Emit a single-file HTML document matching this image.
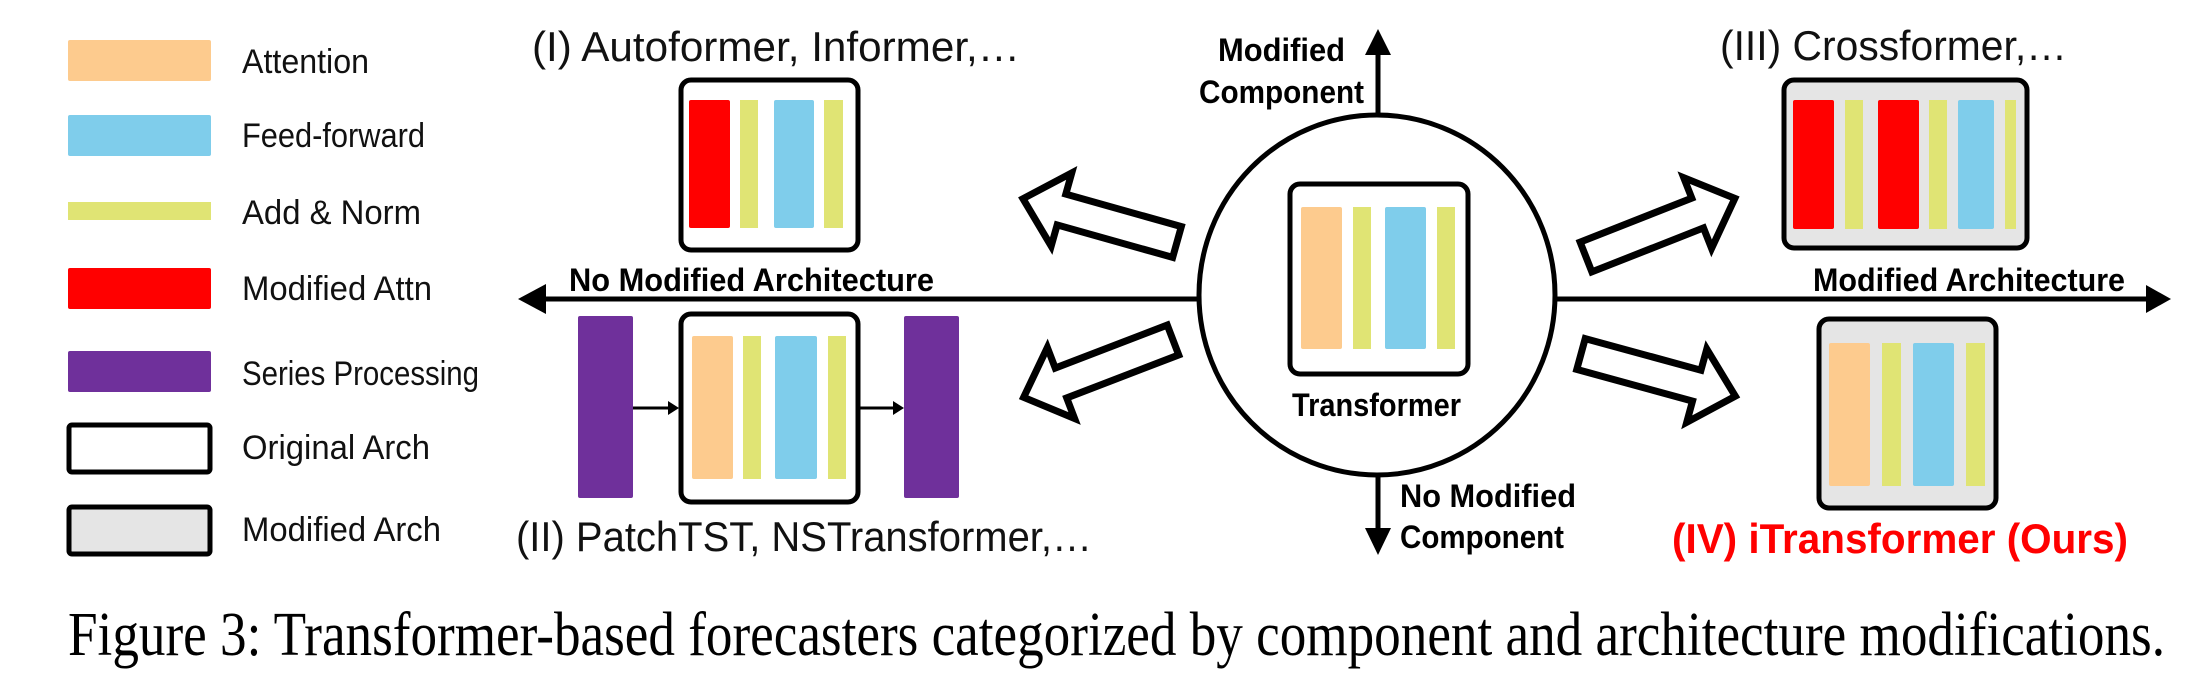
<!DOCTYPE html>
<html><head><meta charset="utf-8"><style>
html,body{margin:0;padding:0;background:#fff;}
svg{display:block;}
.l{font-family:"Liberation Sans Narrow","Liberation Sans",sans-serif;font-size:34px;fill:#111;}
.t{font-family:"Liberation Sans Narrow","Liberation Sans",sans-serif;font-size:42px;fill:#111;}
.b{font-family:"Liberation Sans Narrow","Liberation Sans",sans-serif;font-size:32px;font-weight:bold;fill:#000;}
</style></head><body>
<svg width="2211" height="691" viewBox="0 0 2211 691" xmlns="http://www.w3.org/2000/svg">
<defs>
<polygon id="ha" points="0,-16 120,-16 120,-38 160,0 120,38 120,16 0,16" fill="#fff" stroke="#000" stroke-width="7" stroke-linejoin="miter"/>
</defs>
<!-- legend -->
<rect x="68" y="40" width="143" height="41" rx="2" fill="#fdcb8e"/>
<rect x="68" y="115" width="143" height="41" rx="2" fill="#7fcdeb"/>
<rect x="68" y="202" width="143" height="18" fill="#e0e474"/>
<rect x="68" y="268" width="143" height="41" rx="2" fill="#ff0000"/>
<rect x="68" y="351" width="143" height="41" rx="2" fill="#6f309b"/>
<rect x="69" y="425" width="141" height="47" rx="3" fill="#fff" stroke="#000" stroke-width="5"/>
<rect x="69" y="507" width="141" height="47" rx="3" fill="#e5e5e5" stroke="#000" stroke-width="5"/>
<text class="l" x="242" y="73" textLength="127" lengthAdjust="spacingAndGlyphs">Attention</text>
<text class="l" x="242" y="147" textLength="183" lengthAdjust="spacingAndGlyphs">Feed-forward</text>
<text class="l" x="242" y="224" textLength="179" lengthAdjust="spacingAndGlyphs">Add &amp; Norm</text>
<text class="l" x="242" y="300" textLength="190" lengthAdjust="spacingAndGlyphs">Modified Attn</text>
<text class="l" x="242" y="385" textLength="237" lengthAdjust="spacingAndGlyphs">Series Processing</text>
<text class="l" x="242" y="459" textLength="188" lengthAdjust="spacingAndGlyphs">Original Arch</text>
<text class="l" x="242" y="541" textLength="199" lengthAdjust="spacingAndGlyphs">Modified Arch</text>

<!-- axes -->
<line x1="530" y1="299" x2="1200" y2="299" stroke="#000" stroke-width="5"/>
<polygon points="518,299 546,284 546,314" fill="#000"/>
<line x1="1556" y1="299" x2="2158" y2="299" stroke="#000" stroke-width="5"/>
<polygon points="2171,299 2146,285 2146,313" fill="#000"/>
<line x1="1378" y1="42" x2="1378" y2="116" stroke="#000" stroke-width="5"/>
<polygon points="1378,29 1365,55 1391,55" fill="#000"/>
<line x1="1378" y1="474" x2="1378" y2="540" stroke="#000" stroke-width="5"/>
<polygon points="1378,555 1365,528 1391,528" fill="#000"/>

<text class="b" x="569" y="291" textLength="365" lengthAdjust="spacingAndGlyphs">No Modified Architecture</text>
<text class="b" x="1813" y="291" textLength="312" lengthAdjust="spacingAndGlyphs">Modified Architecture</text>
<text class="b" x="1218" y="61" textLength="127" lengthAdjust="spacingAndGlyphs">Modified</text>
<text class="b" x="1199" y="103" textLength="165" lengthAdjust="spacingAndGlyphs">Component</text>
<text class="b" x="1400" y="507" textLength="176" lengthAdjust="spacingAndGlyphs">No Modified</text>
<text class="b" x="1400" y="548" textLength="164" lengthAdjust="spacingAndGlyphs">Component</text>

<!-- circle -->
<ellipse cx="1377" cy="295" rx="178" ry="180" fill="#fff" stroke="#000" stroke-width="5"/>
<rect x="1290" y="184" width="178" height="190" rx="10" fill="#fff" stroke="#000" stroke-width="5"/>
<rect x="1301" y="207" width="41" height="142" rx="2" fill="#fdcb8e"/>
<rect x="1353" y="207" width="18" height="142" fill="#e0e474"/>
<rect x="1385" y="207" width="41" height="142" rx="2" fill="#7fcdeb"/>
<rect x="1437" y="207" width="18" height="142" fill="#e0e474"/>
<text class="b" x="1292" y="416" textLength="169" lengthAdjust="spacingAndGlyphs">Transformer</text>

<!-- hollow arrows -->
<use href="#ha" transform="translate(1177,242) rotate(-164.3)"/>
<use href="#ha" transform="translate(1173,340) rotate(159)"/>
<use href="#ha" transform="translate(1586,257) rotate(-21.5)"/>
<use href="#ha" transform="translate(1581,354) rotate(15.3)"/>

<!-- Box I -->
<text class="t" x="532" y="61" textLength="488" lengthAdjust="spacingAndGlyphs">(I) Autoformer, Informer,…</text>
<rect x="681" y="80" width="177" height="170" rx="10" fill="#fff" stroke="#000" stroke-width="5"/>
<rect x="689" y="100" width="41" height="128" rx="2" fill="#ff0000"/>
<rect x="740" y="100" width="18" height="128" fill="#e0e474"/>
<rect x="774" y="100" width="40" height="128" rx="2" fill="#7fcdeb"/>
<rect x="824" y="100" width="19" height="128" fill="#e0e474"/>

<!-- Box II -->
<rect x="578" y="316" width="55" height="182" rx="2" fill="#6f309b"/>
<rect x="904" y="316" width="55" height="182" rx="2" fill="#6f309b"/>
<rect x="681" y="314" width="177" height="188" rx="10" fill="#fff" stroke="#000" stroke-width="5"/>
<rect x="692" y="336" width="41" height="143" rx="2" fill="#fdcb8e"/>
<rect x="743" y="336" width="18" height="143" fill="#e0e474"/>
<rect x="775" y="336" width="42" height="143" rx="2" fill="#7fcdeb"/>
<rect x="828" y="336" width="18" height="143" fill="#e0e474"/>
<line x1="633" y1="408" x2="670" y2="408" stroke="#000" stroke-width="3"/>
<polygon points="679,408 668,401 668,415" fill="#000"/>
<line x1="859" y1="408" x2="895" y2="408" stroke="#000" stroke-width="3"/>
<polygon points="904,408 893,401 893,415" fill="#000"/>
<text class="t" x="516" y="551" textLength="576" lengthAdjust="spacingAndGlyphs">(II) PatchTST, NSTransformer,…</text>

<!-- Box III -->
<text class="t" x="1720" y="60" textLength="347" lengthAdjust="spacingAndGlyphs">(III) Crossformer,…</text>
<rect x="1784" y="80" width="243" height="168" rx="10" fill="#e5e5e5" stroke="#000" stroke-width="5"/>
<rect x="1793" y="100" width="41" height="129" rx="2" fill="#ff0000"/>
<rect x="1845" y="100" width="18" height="129" fill="#e0e474"/>
<rect x="1878" y="100" width="41" height="129" rx="2" fill="#ff0000"/>
<rect x="1929" y="100" width="18" height="129" fill="#e0e474"/>
<rect x="1958" y="100" width="36" height="129" rx="2" fill="#7fcdeb"/>
<rect x="2005" y="100" width="11" height="129" fill="#e0e474"/>

<!-- Box IV -->
<rect x="1819" y="319" width="177" height="189" rx="10" fill="#e5e5e5" stroke="#000" stroke-width="5"/>
<rect x="1829" y="343" width="41" height="143" rx="2" fill="#fdcb8e"/>
<rect x="1882" y="343" width="19" height="143" fill="#e0e474"/>
<rect x="1913" y="343" width="41" height="143" rx="2" fill="#7fcdeb"/>
<rect x="1966" y="343" width="19" height="143" fill="#e0e474"/>
<text x="1672" y="553" textLength="456" lengthAdjust="spacingAndGlyphs" style="font-family:'Liberation Sans Narrow','Liberation Sans',sans-serif;font-size:42px;font-weight:bold;fill:#ff0000;">(IV) iTransformer (Ours)</text>

<!-- caption -->
<text x="68" y="655" textLength="2097" lengthAdjust="spacingAndGlyphs" style="font-family:'Liberation Serif',serif;font-size:62px;fill:#000;">Figure 3: Transformer-based forecasters categorized by component and architecture modifications.</text>
</svg>
</body></html>
